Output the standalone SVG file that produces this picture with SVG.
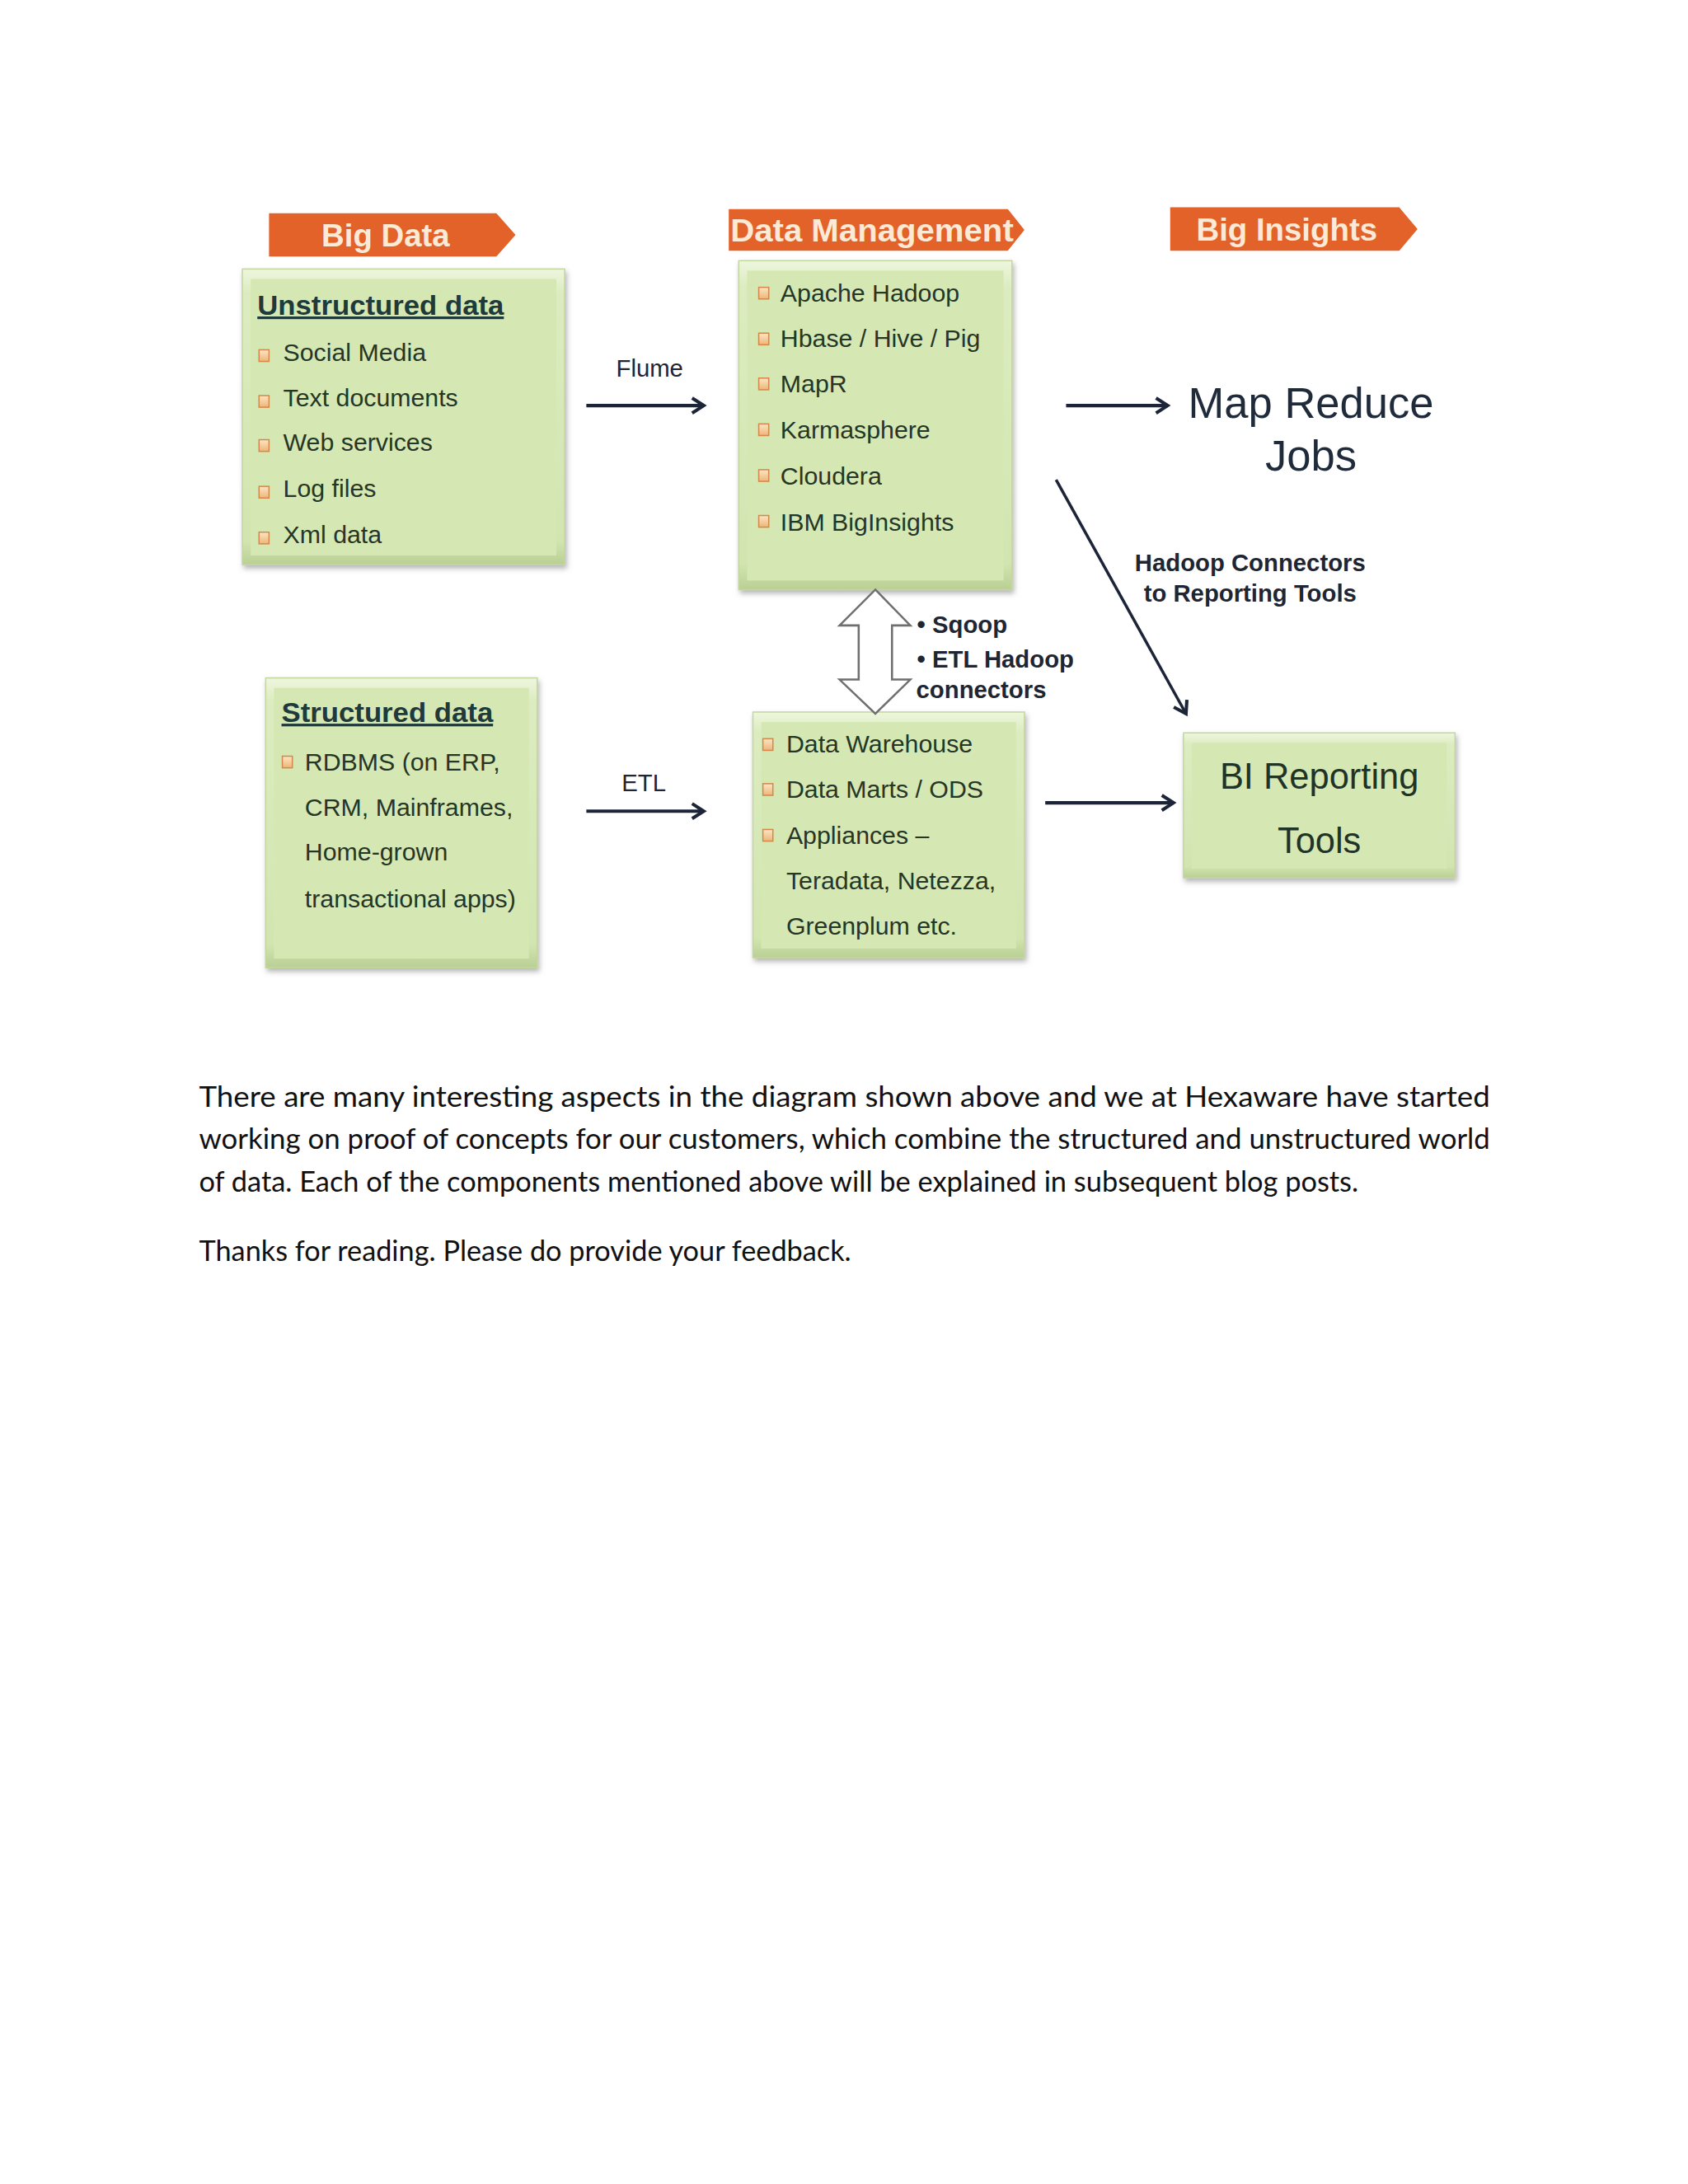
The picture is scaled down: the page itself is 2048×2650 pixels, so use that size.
<svg xmlns="http://www.w3.org/2000/svg" width="2048" height="2650" viewBox="0 0 2048 2650">
<style>
.banner{fill:#e2622a}
.btxt{font-family:"Liberation Sans",Arial,sans-serif;font-weight:bold;font-size:38px;fill:#fce9d6;text-anchor:middle}
.boxo{fill:url(#bev);stroke:#c3d79e;stroke-width:1.5}
.boxi{fill:#d5e8b4}
.head{font-family:"Liberation Sans",Arial,sans-serif;font-weight:bold;font-size:32px;fill:#1f3a3a;text-decoration:underline}
.item{font-family:"Liberation Sans",Arial,sans-serif;font-size:30px;fill:#263626}
.bul{fill:url(#bulg);stroke:#d4884a;stroke-width:1.5}
.lbl{font-family:"Liberation Sans",Arial,sans-serif;font-size:29px;fill:#1f2633;text-anchor:middle}
.blbl{font-family:"Liberation Sans",Arial,sans-serif;font-weight:bold;font-size:29px;fill:#1f2633}
.big{font-family:"Liberation Sans",Arial,sans-serif;font-size:52px;fill:#1f2b3b;text-anchor:middle}
.bi{font-family:"Liberation Sans",Arial,sans-serif;font-size:43px;fill:#1f3326;text-anchor:middle}
.conn{stroke:#1c2438;stroke-width:4;fill:none;marker-end:url(#ah)}
.para{font-family:Lato,"Open Sans",sans-serif;font-size:34px;fill:#111111}
</style>
<defs>
<linearGradient id="bev" x1="0" y1="0" x2="0" y2="1">
<stop offset="0" stop-color="#eef6de"/>
<stop offset="0.08" stop-color="#dcecc0"/>
<stop offset="0.92" stop-color="#d2e5b0"/>
<stop offset="1" stop-color="#b9cf93"/>
</linearGradient>
<linearGradient id="bulg" x1="0" y1="0" x2="0" y2="1">
<stop offset="0" stop-color="#fbe6c6"/>
<stop offset="1" stop-color="#eeb577"/>
</linearGradient>
<filter id="sh" x="-10%" y="-10%" width="125%" height="125%">
<feDropShadow dx="2" dy="4" stdDeviation="3" flood-color="#7a7a7a" flood-opacity="0.55"/>
</filter>
<marker id="ah" markerUnits="userSpaceOnUse" markerWidth="24" markerHeight="24" refX="20" refY="12" orient="auto">
<path d="M6,3 L20,12 L6,21" fill="none" stroke="#1c2438" stroke-width="4"/>
</marker>
</defs>
<rect width="2048" height="2650" fill="#ffffff"/>
<g transform="scale(1.0105)">
<g id="banner-bigdata">
<path class="banner" d="M323,256 H596 L619,282 L596,308 H323 Z"/>
<text class="btxt" x="463" y="296">Big Data</text>
</g>
<g id="banner-datamgmt">
<path class="banner" d="M875,251 H1210 L1230,276 L1210,301 H875 Z"/>
<text class="btxt" x="877" y="290" style="text-anchor:start" font-size="40" textLength="340" lengthAdjust="spacingAndGlyphs">Data Management</text>
</g>
<g id="banner-biginsights">
<path class="banner" d="M1405,249 H1680 L1702,275 L1680,301 H1405 Z"/>
<text class="btxt" x="1545" y="289">Big Insights</text>
</g>

<g id="unstructured">
<rect class="boxo" x="291" y="323" width="387" height="355" filter="url(#sh)"/>
<rect class="boxi" x="301" y="335" width="367" height="332"/>
<text class="head" x="309" y="378" textLength="296" lengthAdjust="spacingAndGlyphs">Unstructured  data</text>
<rect class="bul" x="311" y="420" width="12" height="14"/>
<text class="item" x="340" y="433">Social Media</text>
<rect class="bul" x="311" y="475" width="12" height="14"/>
<text class="item" x="340" y="488">Text documents</text>
<rect class="bul" x="311" y="528" width="12" height="14"/>
<text class="item" x="340" y="541">Web services</text>
<rect class="bul" x="311" y="584" width="12" height="14"/>
<text class="item" x="340" y="597">Log files</text>
<rect class="bul" x="311" y="639" width="12" height="14"/>
<text class="item" x="340" y="652">Xml data</text>
</g>

<g id="datamanagement">
<rect class="boxo" x="887" y="313" width="328" height="395" filter="url(#sh)"/>
<rect class="boxi" x="897" y="325" width="308" height="372"/>
<rect class="bul" x="911" y="345" width="12" height="14"/>
<text class="item" x="937" y="362">Apache Hadoop</text>
<rect class="bul" x="911" y="400" width="12" height="14"/>
<text class="item" x="937" y="417">Hbase / Hive / Pig</text>
<rect class="bul" x="911" y="454" width="12" height="14"/>
<text class="item" x="937" y="471">MapR</text>
<rect class="bul" x="911" y="509" width="12" height="14"/>
<text class="item" x="937" y="526">Karmasphere</text>
<rect class="bul" x="911" y="564" width="12" height="14"/>
<text class="item" x="937" y="582">Cloudera</text>
<rect class="bul" x="911" y="619" width="12" height="14"/>
<text class="item" x="937" y="637">IBM  BigInsights</text>
</g>

<g id="mapreduce">
<text class="big" x="1574" y="502">Map Reduce</text>
<text class="big" x="1574" y="565">Jobs</text>
</g>

<g id="structured">
<rect class="boxo" x="319" y="814" width="326" height="348" filter="url(#sh)"/>
<rect class="boxi" x="329" y="826" width="306" height="325"/>
<text class="head" x="338" y="867" textLength="254" lengthAdjust="spacingAndGlyphs">Structured  data</text>
<rect class="bul" x="339" y="908" width="12" height="14"/>
<text class="item" x="366" y="925">RDBMS  (on ERP,</text>
<text class="item" x="366" y="980">CRM, Mainframes,</text>
<text class="item" x="366" y="1033">Home-grown</text>
<text class="item" x="366" y="1090">transactional apps)</text>
</g>

<g id="datawarehouse">
<rect class="boxo" x="904" y="855" width="326" height="295" filter="url(#sh)"/>
<rect class="boxi" x="914" y="867" width="306" height="272"/>
<rect class="bul" x="916" y="887" width="12" height="14"/>
<text class="item" x="944" y="904">Data Warehouse</text>
<rect class="bul" x="916" y="941" width="12" height="14"/>
<text class="item" x="944" y="958">Data Marts / ODS</text>
<rect class="bul" x="916" y="996" width="12" height="14"/>
<text class="item" x="944" y="1013">Appliances –</text>
<text class="item" x="944" y="1068">Teradata, Netezza,</text>
<text class="item" x="944" y="1122">Greenplum etc.</text>
</g>

<g id="bireporting">
<rect class="boxo" x="1421" y="880" width="326" height="174" filter="url(#sh)"/>
<rect class="boxi" x="1431" y="892" width="306" height="151"/>
<text class="bi" x="1584" y="947">BI Reporting</text>
<text class="bi" x="1584" y="1024">Tools</text>
</g>

<g id="connectors">
<line class="conn" x1="704" y1="487" x2="845" y2="487"/>
<text class="lbl" x="780" y="452">Flume</text>
<line class="conn" x1="1268" y1="576" x2="1424" y2="857" style="stroke-width:3.5"/>
<line class="conn" x1="1280" y1="487" x2="1402" y2="487"/>
<text class="blbl" x="1501" y="686" style="text-anchor:middle">Hadoop Connectors</text>
<text class="blbl" x="1501" y="722" style="text-anchor:middle">to Reporting Tools</text>
<path d="M1051,708 L1093,751 H1071 V816 H1093 L1051,857 L1008,816 H1031 V751 H1008 Z" fill="#ffffff" stroke="#6f6f6f" stroke-width="2.5"/>
<text class="blbl" x="1101" y="760">• Sqoop</text>
<text class="blbl" x="1101" y="802">• ETL Hadoop</text>
<text class="blbl" x="1100" y="838">connectors</text>
<line class="conn" x1="704" y1="974" x2="845" y2="974"/>
<text class="lbl" x="773" y="950">ETL</text>
<line class="conn" x1="1255" y1="964" x2="1409" y2="964"/>
</g>

<g id="paragraph">
<text class="para" x="239" y="1329" textLength="1550" lengthAdjust="spacingAndGlyphs">There are many interesting aspects in the diagram shown above and we at Hexaware have started</text>
<text class="para" x="239" y="1380" textLength="1550" lengthAdjust="spacingAndGlyphs">working on proof of concepts for our customers, which combine the structured and unstructured world</text>
<text class="para" x="239" y="1431" textLength="1392" lengthAdjust="spacingAndGlyphs">of data. Each of the components mentioned above will be explained in subsequent blog posts.</text>
<text class="para" x="239" y="1514" textLength="783" lengthAdjust="spacingAndGlyphs">Thanks for reading. Please do provide your feedback.</text>
</g>
</g>
</svg>
